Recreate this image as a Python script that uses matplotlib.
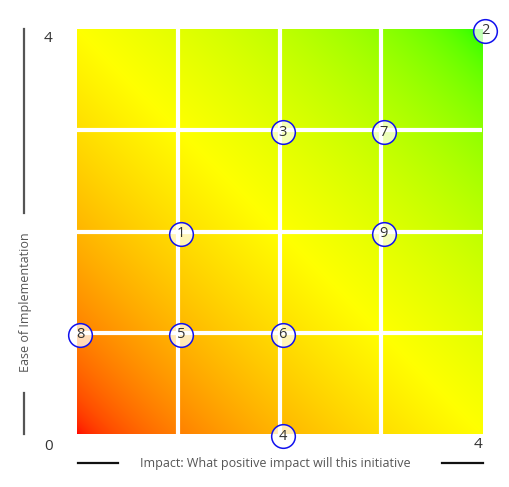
import matplotlib
matplotlib.use("Agg")
import matplotlib.pyplot as plt
import matplotlib.transforms as mtransforms
from matplotlib.lines import Line2D
import numpy as np

plt.rcParams['font.family'] = ['Open Sans', 'DejaVu Sans']

# data
labels = ['1', '2', '3', '4', '5', '6', '7', '8', '9']
impact = [1, 4, 2, 2, 1, 2, 3, 0, 3]
ease = [2, 4, 3, 0, 1, 1, 3, 1, 2]
x_title = 'Impact: What positive impact will this initiative'
y_title = 'Ease of Implementation'

W, H = 509, 487
fig = plt.figure(figsize=(W / 100, H / 100), dpi=100)
ax = fig.add_axes([77 / W, 1 - 434 / H, 405 / W, 405 / H])

# background gradient red -> yellow -> green along the diagonal
n = 400
g = np.linspace(0, 4, n)
gx, gy = np.meshgrid(g, g)
t = (gx + gy) / 8
img = np.zeros((n, n, 3))
img[..., 0] = np.where(t <= 0.5, 1.0, np.clip((1 - t) / 0.5, 0, 1) ** 0.42)
img[..., 1] = np.where(t <= 0.5, np.sqrt(np.clip(t / 0.5, 0, 1)), 1.0)
ax.imshow(img, extent=[0, 4, 0, 4], origin='lower', aspect='auto', interpolation='bilinear')

for v in [1, 2, 3]:
    ax.axvline(v, color='white', lw=3)
    ax.axhline(v, color='white', lw=3)

ax.set_xlim(0, 4)
ax.set_ylim(0, 4)
ax.set_xticks([])
ax.set_yticks([])
for s in ax.spines.values():
    s.set_visible(False)

# bubbles sit a few pixels right/below of the grid crossings
shift = ax.transData + mtransforms.ScaledTranslation(3 / 100, -2 / 100, fig.dpi_scale_trans)
ax.scatter(impact, ease, s=290, facecolor=(1, 1, 1, 0.72), edgecolor='#1010ee',
           linewidth=1.1, zorder=5, clip_on=False, transform=shift)
for lb, xv, yv in zip(labels, impact, ease):
    ax.text(xv, yv, lb, ha='center', va='center', fontsize=10.5, color='#333333',
            zorder=6, clip_on=False, transform=shift)

# axis end labels
fig.text(48 / W, 1 - 39 / H, '4', ha='center', va='center', fontsize=11, color='#333333')
fig.text(49 / W, 1 - 447 / H, '0', ha='center', va='center', fontsize=11, color='#333333')
fig.text(478 / W, 1 - 445 / H, '4', ha='center', va='center', fontsize=11, color='#333333')

# axis titles with bars
fig.text(275 / W, 1 - 463 / H, x_title, ha='center', va='center', fontsize=9, color='#555555')
fig.text(26 / W, 1 - 302 / H, y_title, ha='center', va='center', rotation=90,
         fontsize=9, color='#555555')

for x0, x1 in [(78, 118), (442, 483)]:
    fig.add_artist(Line2D([x0 / W, x1 / W], [1 - 463 / H, 1 - 463 / H], color='#111111', lw=1.6))
for y0, y1 in [(29, 213), (393, 434)]:
    fig.add_artist(Line2D([24 / W, 24 / W], [1 - y0 / H, 1 - y1 / H], color='#555555', lw=1.6))

fig.savefig('out.png', dpi=100)
